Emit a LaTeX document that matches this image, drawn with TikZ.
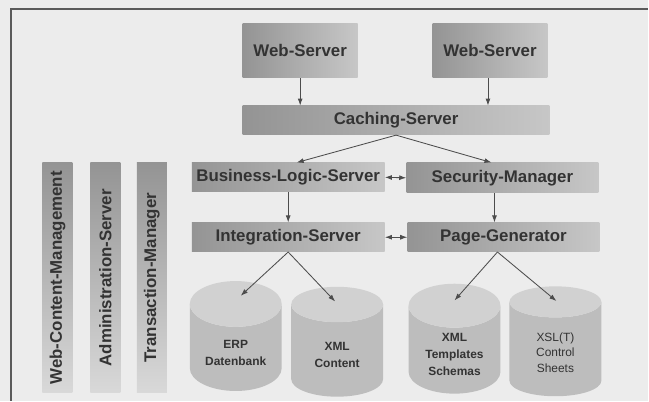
\documentclass[tikz,border=0pt]{standalone}
\usepackage{fontspec}
\setmainfont{Liberation Sans}
\usepackage{xcolor}
\usepackage{tikz}
\usetikzlibrary{shapes.geometric,calc,arrows.meta}

\definecolor{txt}{HTML}{333333}
\definecolor{paper}{HTML}{ECECEC}
\definecolor{rim}{HTML}{5A5A5A}

\begin{document}
\begin{tikzpicture}
                        [x=0.025cm, y=-0.025cm,
                        >={Latex[length=5pt,width=3.5pt]},
                        server/.style = {left color=black!42, right color=black!22,
                                    text=txt, inner sep=0pt,
                                    font=\fontsize{12}{14}\selectfont\bfseries},
                        bar/.style = {top color=black!42, bottom color=black!15,
                                    rotate=90, inner sep=0pt,
                                    minimum width=5.75cm, minimum height=0.75cm,
                                    text=txt, font=\fontsize{12}{14}\selectfont\bfseries},
                        store/.style = {cylinder, shape border rotate=90, aspect=0.65,
                                    cylinder uses custom fill,
                                    cylinder body fill=black!26,
                                    cylinder end fill=black!18,
                                    minimum width=2.3cm, minimum height=2.75cm,
                                    align=center, text=txt,
                                    font=\fontsize{8.5}{12}\selectfont\bfseries},
                        link/.style = {draw=black!70, line width=0.6pt}]
                        \fill[paper] (0,0) rectangle (649,401);
                        \draw[rim, line width=1pt] (11,401) -- (11,9) -- (649,9);
                        % Web-Server
                        \node[server, minimum width=2.875cm, minimum height=1.35cm] (WS1) at (300.5,51) {Web-Server};
                        \node[server, minimum width=2.875cm, minimum height=1.35cm] (WS2) at (490.5,51) {Web-Server};
                        % Caching-Server
                        \node[server, minimum width=7.675cm, minimum height=0.725cm] (CS) at (396.5,120.5) {Caching-Server};
                        % Logik und Sicherheit
                        \node[server, minimum width=4.825cm, minimum height=0.725cm] (BLS) at (288.5,177.5) {Business-Logic-Server};
                        \node[server, minimum width=4.8cm, minimum height=0.75cm] (SM) at (503,178) {Security-Manager};
                        % Integration und Seiten
                        \node[server, minimum width=4.825cm, minimum height=0.725cm] (IS) at (288.5,237.5) {Integration-Server};
                        \node[server, minimum width=4.8cm, minimum height=0.725cm] (PG) at (504,237.5) {Page-Generator};
                        % Querschnittsdienste
                        \node[bar] (WCM) at (57.5,278) {Web-Content-Management};
                        \node[bar] (AS) at (105.5,278) {Administration-Server};
                        \node[bar] (TM) at (152,278) {Transaction-Manager};
                        % Datenspeicher
                        \node[store] (ERP) at (236,353) {ERP\\Datenbank};
                        \node[store] (XC) at (337.5,355) {XML\\Content};
                        \node[store] (XT) at (455,355) {XML\\Templates\\Schemas};
                        \node[store, font=\fontsize{8.5}{11}\selectfont] (XSL) at (556,353) {XSL(T)\\Control\\Sheets};
                        % Verbindungen
                        \draw[link,->] (WS1.south) -- (WS1.south |- CS.north);
                        \draw[link,->] ($(WS2.south)+(-2,0)$) -- ($(WS2.south |- CS.north)+(-2,0)$);
                        \draw[link,->] (CS.south) -- ($(BLS.north)+(8.5,0)$);
                        \draw[link,->] (CS.south) -- ($(SM.north)+(-11,0)$);
                        \draw[link,<->] (BLS.east) -- (SM.west);
                        \draw[link,->] (BLS.south) -- (IS.north);
                        \draw[link,->] ($(SM.south)+(-8,0)$) -- ($(SM.south |- PG.north)+(-8,0)$);
                        \draw[link,<->] (IS.east) -- (PG.west);
                        \draw[link,->] (IS.south) -- ($(ERP.north)+(5,15)$);
                        \draw[link,->] (IS.south) -- ($(XC.north)+(-2,15)$);
                        \draw[link,->] ($(PG.south)+(-6,0)$) -- ($(XT.north)+(0,17)$);
                        \draw[link,->] ($(PG.south)+(-6,0)$) -- ($(XSL.north)+(1,15)$);
                    \end{tikzpicture}
\end{document}
